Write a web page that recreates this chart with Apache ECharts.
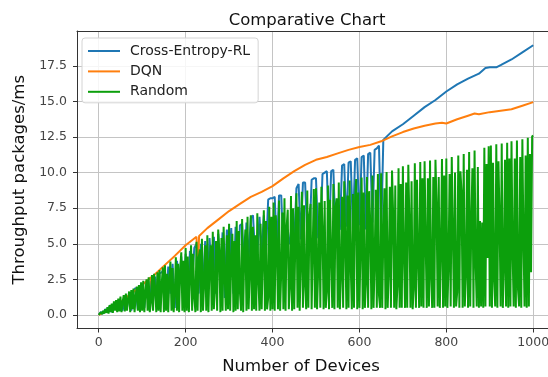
<!DOCTYPE html>
<html>
<head>
<meta charset="utf-8">
<script src="https://cdn.jsdelivr.net/npm/echarts@6/dist/echarts.min.js"></script>
<style>html,body{margin:0;padding:0;background:#fff;overflow:hidden;}#c{width:548px;height:377px;}</style>
</head>
<body>
<div id="c"></div>
<script>
const seriesNames = ['Cross-Entropy-RL', 'DQN', 'Random'];
const xTicks = [0, 200, 400, 600, 800, 1000];
const yTicks = [0, 2.5, 5, 7.5, 10, 12.5, 15, 17.5];

// Random: sampled every 2.5 devices, x = 0..1000
const randomStep = 2.5;
const randomY = [
  0.0, 0.1, 0.2, 0.05, 0.3, 0.1, 0.4, 0.15, 0.55, 0.1, 0.7, 0.2, 0.8, 0.15, 0.95, 0.3, 1.05, 0.2, 1.15, 0.25,
  1.3, 0.2, 0.9, 1.4, 0.25, 1.5, 0.3, 1.1, 1.65, 0.2, 1.75, 0.4, 1.85, 0.2, 1.3, 2.0, 0.3, 2.1, 0.2, 2.3,
  0.3, 2.4, 0.2, 1.6, 2.5, 0.3, 2.65, 0.2, 0.9, 2.8, 0.3, 2.9, 1.8, 0.2, 3.0, 0.3, 3.15, 0.2, 2.2, 3.35,
  0.2, 3.5, 0.3, 2.9, 0.2, 2.6, 3.75, 0.3, 3.3, 0.2, 1.5, 4.05, 0.3, 3.6, 0.2, 3.2, 4.4, 0.3, 3.8, 0.2,
  4.7, 0.3, 4.1, 0.2, 2.8, 4.9, 0.3, 4.3, 1.2, 0.2, 5.15, 0.3, 4.0, 4.6, 0.2, 5.35, 0.3, 2.2, 4.9, 0.3,
  5.6, 0.2, 3.5, 4.9, 0.3, 5.85, 0.4, 1.8, 5.2, 0.3, 6.0, 4.5, 0.2, 5.4, 0.3, 6.2, 2.6, 0.3, 5.6, 0.4,
  6.4, 0.3, 3.8, 5.7, 0.2, 5.2, 0.3, 6.6, 0.4, 5.9, 1.6, 0.3, 6.75, 0.2, 4.4, 6.0, 0.3, 6.9, 0.4, 2.9,
  7.0, 0.3, 6.2, 0.4, 5.6, 0.3, 7.15, 2.4, 0.3, 6.4, 0.4, 4.0, 7.35, 0.3, 6.6, 0.4, 1.2, 7.6, 0.3, 6.9,
  0.4, 7.9, 0.3, 7.0, 4.8, 0.4, 8.05, 0.3, 3.0, 7.2, 0.4, 8.2, 0.3, 6.2, 7.4, 0.4, 1.9, 8.35, 0.3, 7.5,
  0.4, 5.4, 8.55, 0.5, 7.6, 0.3, 3.6, 8.65, 0.5, 7.7, 2.1, 0.4, 8.75, 0.5, 7.0, 7.8, 0.4, 4.6, 8.85, 0.5,
  8.9, 0.4, 3.0, 7.9, 0.5, 9.0, 6.0, 0.4, 8.0, 0.5, 1.6, 9.1, 0.4, 8.1, 4.2, 0.5, 9.2, 0.4, 7.6, 8.2,
  0.5, 9.3, 0.4, 2.7, 8.3, 0.5, 9.4, 5.2, 0.4, 8.4, 0.5, 9.45, 3.4, 0.4, 8.5, 0.5, 8.2, 9.55, 0.4, 8.6,
  0.5, 4.8, 9.65, 0.4, 8.6, 0.5, 2.2, 9.7, 0.5, 8.7, 6.4, 0.4, 9.8, 0.5, 3.6, 8.8, 0.5, 9.9, 1.4, 0.5,
  9.95, 0.5, 5.6, 8.9, 0.4, 10.05, 0.5, 3.0, 9.0, 0.5, 10.15, 7.2, 0.5, 9.1, 0.4, 2.0, 10.3, 0.5, 9.2, 0.5,
  10.45, 4.2, 0.5, 9.3, 0.5, 10.55, 6.6, 0.5, 9.4, 0.4, 1.8, 10.65, 0.5, 9.5, 3.8, 0.5, 10.75, 0.6, 9.6, 0.5,
  10.8, 5.0, 0.5, 9.6, 0.6, 10.85, 2.6, 0.5, 9.7, 0.5, 10.9, 7.8, 0.6, 9.7, 0.5, 4.4, 10.95, 0.5, 9.8, 0.6,
  11.0, 0.5, 3.4, 9.9, 0.6, 11.1, 5.8, 0.5, 10.0, 0.6, 1.6, 11.2, 0.5, 10.1, 8.6, 0.5, 11.3, 0.6, 2.8, 10.2,
  0.5, 11.45, 0.6, 6.4, 10.3, 0.5, 11.55, 3.6, 0.6, 10.4, 0.5, 6.6, 0.6, 6.5, 0.5, 11.75, 0.6, 10.6, 4.0, 11.85,
  0.6, 11.9, 0.5, 10.7, 2.4, 0.6, 12.0, 0.5, 10.8, 6.8, 0.6, 12.05, 0.5, 3.2, 10.9, 0.6, 12.1, 0.5, 11.0, 0.6,
  12.2, 4.4, 0.6, 11.0, 0.5, 12.25, 1.8, 0.6, 11.1, 0.5, 12.35, 5.4, 0.6, 11.2, 0.5, 12.45, 0.6, 11.3, 3.0, 12.55,
  12.6
];

// Cross-Entropy-RL: spiky part every 5 devices (x = 0..650), then smooth tail
const ceStep = 5;
const ceSpikyY = [
  0.0, 0.2, 0.1, 0.4, 0.3, 0.6, 0.2, 0.8, 0.4, 0.7,
  1.0, 0.3, 1.2, 0.5, 1.5, 0.3, 1.7, 1.9, 0.4, 1.8,
  2.1, 0.5, 2.3, 0.4, 2.4, 1.0, 2.7, 0.5, 2.9, 3.0,
  3.2, 0.6, 3.4, 1.5, 3.6, 0.5, 3.8, 2.0, 4.1, 0.8,
  4.3, 1.0, 4.5, 2.5, 4.7, 5.0, 1.5, 5.0, 2.0, 5.2,
  1.0, 5.4, 3.0, 5.5, 1.5, 5.7, 2.5, 5.8, 1.2, 6.0,
  3.0, 6.1, 1.5, 6.2, 2.5, 6.3, 6.4, 3.0, 6.5, 4.0,
  6.8, 7.0, 4.2, 4.3, 6.9, 4.3, 7.0, 4.4, 8.1, 8.2,
  8.2, 8.3, 4.6, 8.4, 8.4, 4.5, 5.0, 6.0, 5.0, 5.2,
  5.2, 8.9, 9.2, 5.3, 9.3, 9.3, 5.5, 5.3, 9.5, 9.6,
  9.6, 5.4, 5.6, 9.9, 10.0, 10.1, 5.7, 10.1, 10.2, 5.8,
  6.0, 6.0, 10.5, 10.6, 6.2, 10.7, 10.8, 6.0, 10.9, 11.0,
  6.3, 11.1, 11.2, 6.0, 11.3, 11.4, 6.5, 11.6, 11.7, 11.9,
  5.6
];
const ceTailX = [655, 675, 700, 725, 750, 775, 800, 825, 850, 875, 890, 900, 915, 925, 950, 975, 1000];
const ceTailY = [12.3, 12.9, 13.4, 14.0, 14.6, 15.1, 15.7, 16.2, 16.6, 16.95, 17.35, 17.4, 17.4, 17.55, 17.95, 18.45, 18.95];

// DQN
const dqnX = [0, 25, 50, 75, 100, 120, 123, 126, 150, 175, 200, 225, 228, 231, 250, 275, 300, 325, 350, 375, 400, 425, 450, 475, 500, 525, 550, 575, 600, 625, 650, 675, 700, 725, 750, 775, 790, 800, 825, 850, 865, 875, 900, 925, 950, 975, 1000];
const dqnY = [0, 0.4, 0.9, 1.5, 2.1, 2.65, 1.6, 2.75, 3.45, 4.15, 4.9, 5.5, 2.9, 5.55, 6.1, 6.7, 7.3, 7.8, 8.3, 8.65, 9.05, 9.6, 10.1, 10.55, 10.9, 11.1, 11.35, 11.6, 11.8, 11.95, 12.2, 12.55, 12.85, 13.1, 13.3, 13.45, 13.5, 13.45, 13.75, 14.0, 14.15, 14.1, 14.25, 14.35, 14.45, 14.7, 14.95];

const ceData = ceSpikyY.map((v, i) => [i * ceStep, v]).concat(ceTailX.map((x, i) => [x, ceTailY[i]]));
const dqnData = dqnX.map((x, i) => [x, dqnY[i]]);
const randomData = randomY.map((v, i) => [i * randomStep, v]);

const FONT = 'DejaVu Sans';
const X_MIN = -50, X_MAX = 1034;   // right spine of the original falls just outside the picture
const chart = echarts.init(document.getElementById('c'), null, { renderer: 'canvas' });
chart.setOption({
  animation: false,
  backgroundColor: '#fff',
  title: {
    text: 'Comparative Chart',
    left: 302, top: 7, textAlign: 'center',
    textStyle: { fontFamily: FONT, fontSize: 16.5, fontWeight: 'normal', color: '#111' }
  },
  legend: {
    data: seriesNames,
    orient: 'vertical',
    left: 82, top: 38,
    padding: [6, 8, 4, 6],
    itemGap: 6.4,
    itemWidth: 32, itemHeight: 2,
    icon: 'rect',
    backgroundColor: 'rgba(255,255,255,0.85)',
    borderColor: '#d4d4d4', borderWidth: 1, borderRadius: 3,
    textStyle: { fontFamily: FONT, fontSize: 14, color: '#222', padding: [0, 0, 0, 5] }
  },
  grid: { left: 77, right: 0, top: 31, bottom: 48.5, show: false, containLabel: false, outerBoundsMode: 'none' },
  xAxis: [{
    type: 'value', min: X_MIN, max: X_MAX,
    name: 'Number of Devices', nameLocation: 'middle', nameGap: 30,
    nameTextStyle: { fontFamily: FONT, fontSize: 16.5, color: '#111', padding: [0, 23, 0, 0] },
    axisLine: { show: true, onZero: false, lineStyle: { color: '#333', width: 1 } },
    axisTick: { show: true, length: 4, customValues: xTicks, lineStyle: { color: '#333' } },
    axisLabel: { customValues: xTicks, margin: 8, fontFamily: FONT, fontSize: 12.5, color: '#444', formatter: v => String(v) },
    splitLine: { show: true, lineStyle: { color: '#c4c4c4', width: 1 } }
  }, {
    type: 'value', position: 'top', min: X_MIN, max: X_MAX,
    axisLine: { show: true, onZero: false, lineStyle: { color: '#333', width: 1 } },
    axisTick: { show: false }, axisLabel: { show: false }, splitLine: { show: false }
  }],
  yAxis: {
    type: 'value', min: -0.95, max: 19.95,
    name: 'Throughput packages/ms', nameLocation: 'middle', nameGap: 47,
    nameTextStyle: { fontFamily: FONT, fontSize: 16.5, color: '#111' },
    axisLine: { show: true, onZero: false, lineStyle: { color: '#333', width: 1 } },
    axisTick: { show: true, length: 4, customValues: yTicks, lineStyle: { color: '#333' } },
    axisLabel: { customValues: yTicks, margin: 10, fontFamily: FONT, fontSize: 12.5, color: '#444', formatter: v => v.toFixed(1) },
    splitLine: { show: true, lineStyle: { color: '#c4c4c4', width: 1 } }
  },
  series: [
    { name: seriesNames[0], type: 'line', data: ceData, showSymbol: false, symbol: 'none', color: '#1f77b4', lineStyle: { width: 2, color: '#1f77b4' } },
    { name: seriesNames[1], type: 'line', data: dqnData, showSymbol: false, symbol: 'none', color: '#ff7f0e', lineStyle: { width: 2, color: '#ff7f0e' } },
    { name: seriesNames[2], type: 'line', data: randomData, showSymbol: false, symbol: 'none', color: '#0c9f0c', lineStyle: { width: 2, color: '#0c9f0c' } }
  ]
});
</script>
</body>
</html>
